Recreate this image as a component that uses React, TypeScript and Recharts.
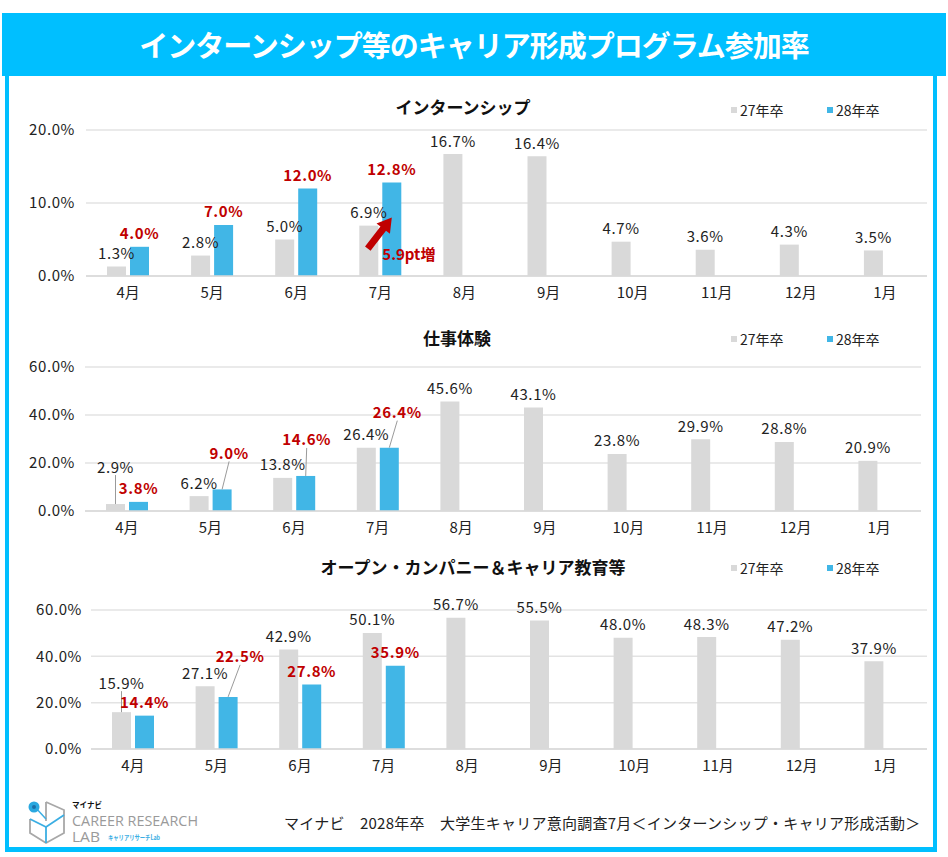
import { BarChart, Bar, XAxis, YAxis, CartesianGrid, LabelList } from "recharts";

const months = ["4月", "5月", "6月", "7月", "8月", "9月", "10月", "11月", "12月", "1月"];

const intern27 = [1.3, 2.8, 5.0, 6.9, 16.7, 16.4, 4.7, 3.6, 4.3, 3.5];
const intern28 = [4.0, 7.0, 12.0, 12.8, null, null, null, null, null, null];

const work27 = [2.9, 6.2, 13.8, 26.4, 45.6, 43.1, 23.8, 29.9, 28.8, 20.9];
const work28 = [3.8, 9.0, 14.6, 26.4, null, null, null, null, null, null];

const open27 = [15.9, 27.1, 42.9, 50.1, 56.7, 55.5, 48.0, 48.3, 47.2, 37.9];
const open28 = [14.4, 22.5, 27.8, 35.9, null, null, null, null, null, null];

const ticks20 = [0, 10, 20];
const ticks60 = [0, 20, 40, 60];

const BLUE_FRAME = "#00BFFF";
const GRAY = "#D9D9D9";
const BLUE = "#41B6E6";
const RED = "#C00000";
const FONT = "'Noto Sans CJK JP', 'Noto Sans', sans-serif";

const rows = (a: (number | null)[], b: (number | null)[]) =>
  months.map((m, i) => ({ month: m, y27: a[i], y28: b[i] }));

type Shift = Record<number, [number, number]>;

// label renderer: value above the bar, optional shifted label with leader line
const makeLabel =
  (color: string, weight: number, shift: Shift, arrowAt?: number) =>
  (props: any) => {
    const { x, y, width, value, index } = props;
    if (value == null) return null;
    const bx = Number(x);
    const by = Number(y);
    const cx = bx + Number(width) / 2;
    const off = shift[index] || [0, 0];
    const lx = cx + off[0];
    const ly = by - 14 + off[1];
    let arrow = null;
    if (arrowAt === index) {
      const tx = cx - 24, ty = by + 66;
      const px = cx, py = by + 35;
      const dx = px - tx, dy = py - ty;
      const len = Math.hypot(dx, dy);
      const ux = dx / len, uy = dy / len;
      const nx = -uy, ny = ux;
      const hx = px - ux * 14, hy = py - uy * 14;
      const pts = [
        [tx + nx * 3.5, ty + ny * 3.5],
        [hx + nx * 3.5, hy + ny * 3.5],
        [hx + nx * 8.5, hy + ny * 8.5],
        [px, py],
        [hx - nx * 8.5, hy - ny * 8.5],
        [hx - nx * 3.5, hy - ny * 3.5],
        [tx - nx * 3.5, ty - ny * 3.5],
      ]
        .map((p) => p.join(","))
        .join(" ");
      arrow = (
        <g>
          <polygon points={pts} fill={RED} />
          <text x={bx} y={by + 71} fill={RED} fontSize={15} fontWeight={700} dominantBaseline="central">
            5.9pt増
          </text>
        </g>
      );
    }
    return (
      <g>
        {shift[index] && (
          <line x1={lx} y1={ly + 9} x2={cx} y2={by} stroke="#9A9A9A" strokeWidth={1} />
        )}
        <text
          x={lx}
          y={ly}
          textAnchor="middle"
          dominantBaseline="central"
          fill={color}
          fontSize={15}
          fontWeight={weight}
          letterSpacing={0.6}
        >
          {Number(value).toFixed(1)}%
        </text>
        {arrow}
      </g>
    );
  };

function Legend({ top }: { top: number }) {
  const item = (left: number, color: string, text: string) => (
    <div style={{ position: "absolute", left, top: top - 10, height: 20, display: "flex", alignItems: "center" }}>
      <span style={{ width: 6, height: 6, background: color, marginRight: 3 }} />
      <span style={{ fontSize: 14, color: "#222" }}>{text}</span>
    </div>
  );
  return (
    <>
      {item(731, GRAY, "27年卒")}
      {item(827, BLUE, "28年卒")}
    </>
  );
}

function Title({ top, center, text }: { top: number; center: number; text: string }) {
  return (
    <div
      style={{
        position: "absolute",
        left: center - 200,
        width: 400,
        top: top - 12,
        height: 24,
        lineHeight: "24px",
        textAlign: "center",
        fontSize: 17,
        fontWeight: 700,
        color: "#111",
      }}
    >
      {text}
    </div>
  );
}

type PanelProps = {
  top: number;
  height: number;
  plotLeft: number;
  plotRight: number;
  tickMargin: number;
  max: number;
  ticks: number[];
  a: (number | null)[];
  b: (number | null)[];
  shift27: Shift;
  shift28: Shift;
  arrowAt?: number;
};

function Panel(p: PanelProps) {
  return (
    <div style={{ position: "absolute", left: 0, top: p.top }}>
      <BarChart
        width={948}
        height={p.height}
        data={rows(p.a, p.b)}
        margin={{ top: 30, right: 948 - p.plotRight, left: 0, bottom: 0 }}
        barGap={4}
      >
        <CartesianGrid vertical={false} stroke="#E3E3E3" strokeWidth={1.5} />
        <XAxis
          dataKey="month"
          tickLine={false}
          axisLine={{ stroke: "#D9D9D9", strokeWidth: 1.5 }}
          tick={{ fontSize: 15, fill: "#222" }}
          tickMargin={5}
          height={30}
          interval={0}
        />
        <YAxis
          width={p.plotLeft}
          domain={[0, p.max]}
          ticks={p.ticks}
          tickLine={false}
          axisLine={false}
          tickMargin={p.tickMargin}
          tick={{ fontSize: 15, fill: "#222", letterSpacing: 0.6 }}
          tickFormatter={(v: number) => v.toFixed(1) + "%"}
        />
        <Bar dataKey="y27" fill={GRAY} barSize={19} isAnimationActive={false}>
          <LabelList dataKey="y27" content={makeLabel("#222", 400, p.shift27)} />
        </Bar>
        <Bar dataKey="y28" fill={BLUE} barSize={19} isAnimationActive={false}>
          <LabelList dataKey="y28" content={makeLabel(RED, 600, p.shift28, p.arrowAt)} />
        </Bar>
      </BarChart>
    </div>
  );
}

function Logo() {
  return (
    <svg width={185} height={50} style={{ position: "absolute", left: 24, top: 797 }}>
      <polyline points="22,5 40,13 40,36 22,46 6,36 6,22" fill="none" stroke="#A8A8A8" strokeWidth={1.8} />
      <polyline points="22,5 22,24" fill="none" stroke="#A8A8A8" strokeWidth={1.8} />
      <polyline points="6,22 22,30 40,18" fill="none" stroke="#3BAEE3" strokeWidth={1.8} />
      <polyline points="22,30 22,46" fill="none" stroke="#3BAEE3" strokeWidth={1.8} />
      <line x1={11} y1={10} x2={22} y2={22} stroke="#3BAEE3" strokeWidth={1.5} />
      <circle cx={10} cy={10} r={5.5} fill="#29A8E0" />
      <circle cx={10} cy={10} r={2} fill="#1C6FA8" />
      <text x={48} y={11} fontSize={8} fontWeight={700} fill="#111" textLength={30} lengthAdjust="spacingAndGlyphs">
        マイナビ
      </text>
      <text
        x={48}
        y={29}
        fontSize={15}
        fill="#9A9A9A"
        fontFamily="'Open Sans', sans-serif"
        textLength={126}
        lengthAdjust="spacingAndGlyphs"
      >
        CAREER RESEARCH
      </text>
      <text
        x={48}
        y={45}
        fontSize={15}
        fill="#9A9A9A"
        fontFamily="'Open Sans', sans-serif"
        textLength={28}
        lengthAdjust="spacingAndGlyphs"
      >
        LAB
      </text>
      <text x={84} y={43} fontSize={7} fontWeight={700} fill="#3BAEE3" textLength={52} lengthAdjust="spacingAndGlyphs">
        キャリアリサーチLab
      </text>
    </svg>
  );
}

export default function App() {
  return (
    <div
      style={{
        position: "absolute",
        left: 0,
        top: 0,
        width: 948,
        height: 857,
        background: "#fff",
        fontFamily: FONT,
        overflow: "hidden",
      }}
    >
      <div
        style={{
          position: "absolute",
          left: 5,
          top: 76,
          width: 932,
          height: 776,
          boxSizing: "border-box",
          borderLeft: `4px solid ${BLUE_FRAME}`,
          borderRight: `4px solid ${BLUE_FRAME}`,
          borderBottom: `5px solid ${BLUE_FRAME}`,
        }}
      />
      <div
        style={{
          position: "absolute",
          left: 2,
          top: 13,
          width: 944,
          height: 63,
          background: BLUE_FRAME,
          color: "#fff",
          fontSize: 29,
          fontWeight: 700,
          lineHeight: "63px",
          textAlign: "center",
          letterSpacing: -1,
        }}
      >
        インターンシップ等のキャリア形成プログラム参加率
      </div>

      <Title top={107} center={463} text="インターンシップ" />
      <Legend top={110} />
      <Panel
        top={100}
        height={206}
        plotLeft={86}
        plotRight={927}
        tickMargin={5}
        max={20}
        ticks={ticks20}
        a={intern27}
        b={intern28}
        shift27={{}}
        shift28={{}}
        arrowAt={3}
      />

      <Title top={338} center={457} text="仕事体験" />
      <Legend top={339} />
      <Panel
        top={337}
        height={204}
        plotLeft={85}
        plotRight={921}
        tickMargin={4}
        max={60}
        ticks={ticks60}
        a={work27}
        b={work28}
        shift27={{ 0: [0, -24] }}
        shift28={{ 1: [7, -23], 2: [1, -23], 3: [8, -22] }}
      />

      <Title top={567} center={473} text="オープン・カンパニー＆キャリア教育等" />
      <Legend top={568} />
      <Panel
        top={580}
        height={199}
        plotLeft={91}
        plotRight={927}
        tickMargin={3}
        max={60}
        ticks={ticks60}
        a={open27}
        b={open28}
        shift27={{ 0: [0, -16] }}
        shift28={{ 1: [12, -27] }}
      />

      <Logo />
      <div
        style={{
          position: "absolute",
          left: 284,
          top: 812,
          fontSize: 15,
          color: "#222",
          whiteSpace: "nowrap",
          lineHeight: "22px",
          letterSpacing: 0.25,
        }}
      >
        マイナビ　2028年卒　大学生キャリア意向調査7月＜インターンシップ・キャリア形成活動＞
      </div>
    </div>
  );
}
